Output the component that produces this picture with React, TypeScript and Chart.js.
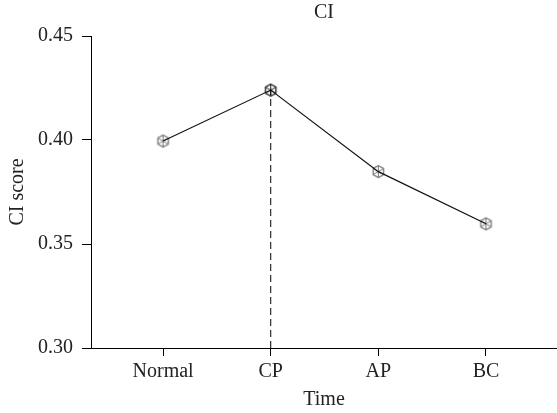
import React, { useEffect, useRef } from "react";
import { Chart, registerables } from "chart.js";

Chart.register(...registerables);

const categories = ["Normal", "CP", "AP", "BC"];
const ciValues = [0.3995, 0.424, 0.3848, 0.3597];
const yTickValues = [0.3, 0.35, 0.4, 0.45];
const peakIndex = 1;
const yMin = 0.3;
const yMax = 0.45;
const chartTitle = "CI";

const FONT = "'Liberation Serif', 'DejaVu Serif', serif";

function makeMarker(color: string): HTMLCanvasElement {
  const size = 15;
  const c = document.createElement("canvas");
  c.width = size;
  c.height = size;
  const ctx = c.getContext("2d")!;
  const cx = size / 2;
  const cy = size / 2;
  const r = 6;
  ctx.strokeStyle = color;
  ctx.lineWidth = 1.3;
  ctx.fillStyle = "#ffffff";
  ctx.beginPath();
  for (let i = 0; i < 6; i++) {
    const a = (Math.PI / 3) * i - Math.PI / 2;
    const x = cx + r * Math.cos(a);
    const y = cy + r * Math.sin(a);
    if (i === 0) ctx.moveTo(x, y);
    else ctx.lineTo(x, y);
  }
  ctx.closePath();
  ctx.fill();
  ctx.stroke();
  ctx.lineWidth = 1;
  for (let i = 0; i < 3; i++) {
    const a = (Math.PI / 3) * i - Math.PI / 2;
    ctx.beginPath();
    ctx.moveTo(cx + r * Math.cos(a), cy + r * Math.sin(a));
    ctx.lineTo(cx - r * Math.cos(a), cy - r * Math.sin(a));
    ctx.stroke();
  }
  return c;
}

export default function App() {
  const ref = useRef<HTMLCanvasElement | null>(null);

  useEffect(() => {
    if (!ref.current) return;
    const grayMarker = makeMarker("#7a7a7a");
    const darkMarker = makeMarker("#222222");
    const points = ciValues.map((v, i) => ({ x: i, y: v }));
    const chart = new Chart(ref.current, {
      type: "line",
      data: {
        datasets: [
          {
            data: points,
            showLine: false,
            pointStyle: (ctx: any) => (ctx.dataIndex === peakIndex ? darkMarker : grayMarker),
            pointRadius: 7,
            order: 3,
          },
          {
            data: [
              { x: peakIndex, y: yMin },
              { x: peakIndex, y: ciValues[peakIndex] },
            ],
            borderColor: "#000",
            borderWidth: 1,
            borderDash: [7, 4],
            pointRadius: 0,
            order: 2,
          },
          {
            data: points,
            borderColor: "#111",
            borderWidth: 1.2,
            pointRadius: 0,
            order: 1,
          },
        ],
      },
      options: {
        animation: false,
        responsive: true,
        maintainAspectRatio: false,
        layout: { padding: 0, autoPadding: false },
        plugins: {
          legend: { display: false },
          tooltip: { enabled: false },
          title: { display: false },
        },
        scales: {
          x: {
            type: "linear",
            min: -0.67,
            max: 3.66,
            afterBuildTicks: (scale: any) => {
              scale.ticks = categories.map((_, i) => ({ value: i }));
            },
            afterFit: (scale: any) => {
              scale.height = 65;
              scale.paddingLeft = 0;
              scale.paddingRight = 0;
            },
            border: { display: true, color: "#000", width: 1 },
            grid: {
              display: true,
              drawOnChartArea: false,
              drawTicks: true,
              tickLength: 8,
              color: "#000",
            },
            ticks: {
              color: "#222",
              font: { family: FONT, size: 20 },
              padding: 4,
              maxRotation: 0,
              callback: (v: any) => categories[v as number] ?? "",
            },
            title: {
              display: true,
              text: "Time",
              color: "#222",
              font: { family: FONT, size: 20 },
              padding: { top: 0, bottom: 1 },
            },
          },
          xTop: {
            type: "linear",
            position: "top",
            min: -0.67,
            max: 3.66,
            afterFit: (scale: any) => {
              scale.height = 36;
              scale.paddingLeft = 0;
              scale.paddingRight = 0;
            },
            border: { display: false },
            grid: { display: false },
            ticks: { display: false },
            title: {
              display: true,
              text: chartTitle,
              color: "#222",
              font: { family: FONT, size: 20 },
              padding: { top: 1, bottom: 0 },
            },
          },
          y: {
            type: "linear",
            min: yMin,
            max: yMax,
            afterBuildTicks: (scale: any) => {
              scale.ticks = yTickValues.map((v) => ({ value: v }));
            },
            afterFit: (scale: any) => {
              scale.width = 91;
            },
            border: { display: true, color: "#000", width: 1 },
            grid: {
              display: true,
              drawOnChartArea: false,
              drawTicks: true,
              tickLength: 9,
              color: "#000",
            },
            ticks: {
              color: "#222",
              font: { family: FONT, size: 20 },
              padding: 9,
              callback: (v: any) => Number(v).toFixed(2),
            },
            title: {
              display: true,
              text: "CI score",
              color: "#222",
              font: { family: FONT, size: 20 },
              padding: { top: 6, bottom: 0 },
            },
          },
        },
      },
    });
    return () => chart.destroy();
  }, []);

  return (
    <div style={{ position: "fixed", left: 0, top: 0, width: 557, height: 413, background: "#fff" }}>
      <canvas ref={ref} />
    </div>
  );
}
